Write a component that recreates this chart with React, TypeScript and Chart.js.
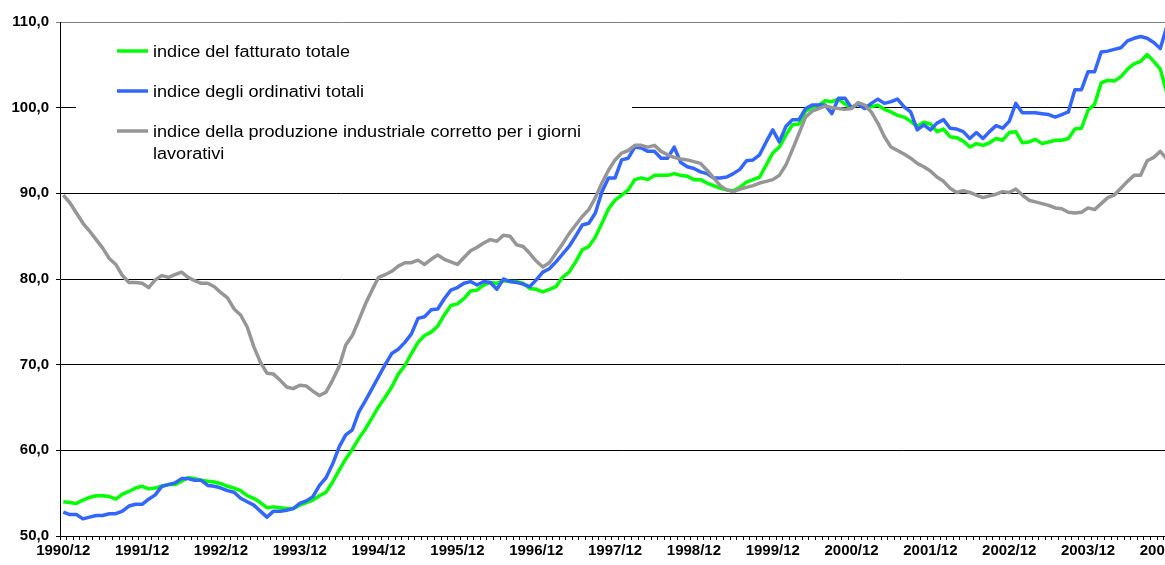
import React, { useEffect, useRef } from 'react';
import { Chart, registerables } from 'chart.js';

Chart.register(...registerables);

// ---- categories: months from 1990/12 (the original axis runs past the visible edge) ----
const categories: string[] = [];
for (let i = 0; i < 171; i++) {
  const m = ((11 + i) % 12) + 1;
  const y = 1990 + Math.floor((11 + i) / 12);
  categories.push(`${y}/${String(m).padStart(2, '0')}`);
}

const yTicks = [50, 60, 70, 80, 90, 100, 110];

const fatturato = [
  54.0, 53.9, 53.8, 54.2, 54.5, 54.7, 54.7, 54.6, 54.3, 54.9,
  55.2, 55.6, 55.8, 55.5, 55.6, 55.8, 56.0, 56.0, 56.4, 56.8,
  56.7, 56.5, 56.4, 56.3, 56.1, 55.8, 55.6, 55.3, 54.7, 54.4,
  53.9, 53.3, 53.4, 53.3, 53.2, 53.2, 53.6, 53.9, 54.2, 54.7,
  55.1, 56.3, 57.7, 59.0, 60.1, 61.4, 62.5, 63.8, 65.1, 66.2,
  67.4, 68.9, 69.9, 71.3, 72.6, 73.4, 73.8, 74.5, 75.8, 76.9,
  77.1, 77.7, 78.6, 78.7, 79.3, 79.6, 79.5, 79.8, 79.7, 79.7,
  79.5, 78.9, 78.8, 78.5, 78.8, 79.1, 80.2, 80.8, 82.0, 83.4,
  83.8, 84.9, 86.5, 88.2, 89.2, 89.8, 90.4, 91.6, 91.8, 91.6,
  92.1, 92.1, 92.1, 92.3, 92.1, 92.0, 91.6, 91.6, 91.2, 90.9,
  90.6, 90.4, 90.3, 90.7, 91.3, 91.6, 91.9, 93.3, 94.7, 95.4,
  96.8, 98.0, 98.1, 99.6, 100.0, 100.3, 100.8, 100.7, 101.0, 100.4,
  100.0, 100.5, 100.2, 100.1, 100.3, 99.8, 99.5, 99.1, 98.9, 98.4,
  97.8, 98.3, 98.1, 97.2, 97.5, 96.6, 96.5, 96.1, 95.4, 95.8,
  95.6, 95.9, 96.4, 96.2, 97.1, 97.2, 95.9, 96.0, 96.3, 95.8,
  96.0, 96.2, 96.2, 96.4, 97.5, 97.6, 99.7, 100.4, 102.9, 103.2,
  103.1, 103.6, 104.5, 105.1, 105.4, 106.2, 105.4, 104.5, 101.7,
];

const ordinativi = [
  52.8, 52.5, 52.5, 52.0, 52.2, 52.4, 52.4, 52.6, 52.6, 52.9,
  53.5, 53.7, 53.7, 54.3, 54.8, 55.8, 56.0, 56.2, 56.7, 56.7,
  56.5, 56.5, 55.9, 55.8, 55.6, 55.3, 55.1, 54.4, 54.0, 53.6,
  52.9, 52.2, 52.9, 52.9, 53.0, 53.2, 53.8, 54.1, 54.6, 55.9,
  56.8, 58.4, 60.4, 61.8, 62.4, 64.5, 65.8, 67.2, 68.6, 70.0,
  71.3, 71.8, 72.6, 73.6, 75.4, 75.6, 76.4, 76.5, 77.7, 78.7,
  79.0, 79.5, 79.7, 79.3, 79.7, 79.6, 78.8, 80.0, 79.7, 79.6,
  79.4, 79.1, 79.9, 80.8, 81.2, 82.0, 82.9, 83.8, 85.0, 86.3,
  86.5, 87.7, 90.2, 91.8, 91.8, 93.9, 94.1, 95.4, 95.3, 94.9,
  94.9, 94.1, 94.1, 95.4, 93.6, 93.1, 92.9, 92.5, 92.3, 91.8,
  91.8, 91.9, 92.3, 92.8, 93.8, 93.9, 94.5, 96.0, 97.4, 96.0,
  97.8, 98.6, 98.6, 99.9, 100.3, 100.3, 100.3, 99.3, 101.1, 101.1,
  100.0, 100.4, 99.9, 100.5, 101.0, 100.5, 100.7, 101.0, 100.1, 99.5,
  97.4, 98.0, 97.4, 98.2, 98.6, 97.6, 97.5, 97.2, 96.4, 97.1,
  96.4, 97.2, 97.9, 97.6, 98.4, 100.5, 99.4, 99.4, 99.4, 99.3,
  99.2, 98.9, 99.2, 99.5, 102.1, 102.1, 104.2, 104.2, 106.5, 106.6,
  106.8, 107.0, 107.8, 108.1, 108.3, 108.1, 107.6, 106.9, 109.5,
];

const produzione = [
  89.8, 88.9, 87.7, 86.5, 85.6, 84.6, 83.6, 82.4, 81.7, 80.4,
  79.6, 79.6, 79.5, 79.0, 79.9, 80.4, 80.2, 80.5, 80.8, 80.2,
  79.8, 79.5, 79.5, 79.1, 78.4, 77.8, 76.5, 75.8, 74.4, 72.1,
  70.3, 69.0, 68.9, 68.2, 67.4, 67.2, 67.6, 67.5, 66.9, 66.4,
  66.8, 68.2, 69.8, 72.3, 73.4, 75.2, 77.1, 78.7, 80.2, 80.5,
  80.9, 81.5, 81.9, 81.9, 82.2, 81.7, 82.3, 82.8, 82.3, 82.0,
  81.7, 82.5, 83.3, 83.7, 84.2, 84.6, 84.4, 85.1, 85.0, 84.0,
  83.8, 83.0, 82.1, 81.4, 81.9, 83.0, 84.1, 85.3, 86.3, 87.3,
  88.1, 89.5, 91.2, 92.7, 93.9, 94.7, 95.0, 95.6, 95.6, 95.4,
  95.6, 94.9, 94.5, 94.2, 94.0, 93.9, 93.7, 93.5, 92.7, 91.8,
  90.9, 90.4, 90.2, 90.5, 90.7, 90.9, 91.2, 91.4, 91.6, 92.1,
  93.3, 95.1, 97.0, 98.9, 99.6, 99.9, 100.2, 100.0, 99.9, 99.8,
  99.9, 100.6, 100.3, 99.5, 98.2, 96.6, 95.4, 95.0, 94.6, 94.1,
  93.5, 93.1, 92.6, 91.9, 91.4, 90.6, 90.1, 90.3, 90.1, 89.8,
  89.5, 89.7, 89.9, 90.2, 90.1, 90.5, 89.8, 89.2, 89.0, 88.8,
  88.6, 88.3, 88.2, 87.8, 87.7, 87.8, 88.3, 88.1, 88.8, 89.5,
  89.8, 90.6, 91.4, 92.1, 92.1, 93.8, 94.2, 94.9, 94.0,
];

const seriesLabels = [
  'indice del fatturato totale',
  'indice degli ordinativi totali',
  'indice della produzione industriale corretto per i giorni lavorativi',
];
const seriesColors = ['#00FF00', '#3366FF', '#969696'];

// ---- layout constants ----
const CANVAS_W = 1190;
const CANVAS_H = 565;
const LEGEND = {
  box: { x: 76, y: 30, w: 556, h: 142 },
  lineX0: 117,
  lineX1: 148,
  textX: 153,
  rowY: [51, 91, 131],
  lineHeight: 21.3,
  fontSize: 16,
  stretch: 1.13,
  maxTextWidth: 470,
};

const insideLegend = {
  id: 'insideLegend',
  beforeDatasetsDraw(chart: any) {
    const ctx: CanvasRenderingContext2D = chart.ctx;
    ctx.save();
    ctx.fillStyle = '#ffffff';
    ctx.fillRect(LEGEND.box.x, LEGEND.box.y, LEGEND.box.w, LEGEND.box.h);
    ctx.font = `${LEGEND.fontSize}px "Liberation Sans", Arial, sans-serif`;
    ctx.textBaseline = 'alphabetic';
    ctx.textAlign = 'left';
    chart.data.datasets.forEach((ds: any, i: number) => {
      const y = LEGEND.rowY[i];
      ctx.strokeStyle = ds.borderColor;
      ctx.lineWidth = 3.5;
      ctx.lineCap = 'butt';
      ctx.beginPath();
      ctx.moveTo(LEGEND.lineX0, y);
      ctx.lineTo(LEGEND.lineX1, y);
      ctx.stroke();
      // simple word wrap
      const words = String(ds.label).split(' ');
      const lines: string[] = [];
      let cur = '';
      for (const w of words) {
        const test = cur ? cur + ' ' + w : w;
        if (ctx.measureText(test).width * LEGEND.stretch > LEGEND.maxTextWidth && cur) {
          lines.push(cur);
          cur = w;
        } else {
          cur = test;
        }
      }
      if (cur) lines.push(cur);
      ctx.fillStyle = '#000000';
      lines.forEach((line, k) => {
        ctx.save();
        ctx.translate(LEGEND.textX, y + 6.4 + k * LEGEND.lineHeight);
        ctx.scale(LEGEND.stretch, 1);
        ctx.fillText(line, 0, 0);
        ctx.restore();
      });
    });
    ctx.restore();
  },
};

export default function App() {
  const ref = useRef<HTMLCanvasElement>(null);

  useEffect(() => {
    if (!ref.current) return;
    const tickFont = { family: '"Liberation Sans", Arial, sans-serif', size: 15, weight: 'bold' as const };
    const chart = new Chart(ref.current, {
      type: 'line',
      data: {
        labels: categories,
        datasets: [
          { label: seriesLabels[0], data: fatturato, borderColor: seriesColors[0], order: 2 },
          { label: seriesLabels[1], data: ordinativi, borderColor: seriesColors[1], order: 1 },
          { label: seriesLabels[2], data: produzione, borderColor: seriesColors[2], order: 0 },
        ].map((d) => ({
          ...d,
          backgroundColor: d.borderColor,
          borderWidth: 3.5,
          pointRadius: 0,
          pointHoverRadius: 0,
          tension: 0,
          fill: false,
          borderJoinStyle: 'round' as const,
          borderCapStyle: 'butt' as const,
        })),
      },
      options: {
        animation: false,
        responsive: false,
        devicePixelRatio: 1,
        layout: { padding: { top: 22, right: CANVAS_W - 60 - 171 * 6.569, bottom: 0, left: 0 } },
        plugins: {
          legend: { display: false },
          tooltip: { enabled: false },
          title: { display: false },
        },
        scales: {
          x: {
            type: 'category',
            offset: true,
            grid: {
              display: true,
              offset: true,
              drawOnChartArea: false,
              drawTicks: true,
              tickLength: 4,
              color: '#000000',
              lineWidth: 1,
            },
            border: { display: true, color: '#000000', width: 1 },
            ticks: {
              autoSkip: false,
              maxRotation: 0,
              minRotation: 0,
              padding: 2,
              color: '#000000',
              font: tickFont,
              callback: (_v: any, index: number) => (index % 12 === 0 ? categories[index] : ''),
            },
            afterFit: (scale: any) => {
              scale.height = 29;
            },
          },
          y: {
            type: 'linear',
            min: yTicks[0],
            max: yTicks[yTicks.length - 1],
            afterBuildTicks: (scale: any) => {
              scale.ticks = yTicks.map((v) => ({ value: v }));
            },
            grid: {
              display: true,
              drawTicks: true,
              tickLength: 4,
              lineWidth: 1,
              color: (c: any) => (c.tick && c.tick.value === 110 ? '#808080' : '#000000'),
            },
            border: { display: true, color: '#000000', width: 1 },
            ticks: {
              padding: 7,
              color: '#000000',
              font: tickFont,
              callback: (v: any) => Number(v).toFixed(1).replace('.', ','),
            },
            afterFit: (scale: any) => {
              scale.width = 60;
            },
          },
        },
      },
      plugins: [insideLegend],
    });
    return () => chart.destroy();
  }, []);

  return (
    <div
      style={{
        position: 'absolute',
        left: 0,
        top: 0,
        width: 1165,
        height: 565,
        overflow: 'hidden',
        background: '#ffffff',
      }}
    >
      <canvas ref={ref} width={CANVAS_W} height={CANVAS_H} style={{ display: 'block', width: CANVAS_W, height: CANVAS_H }} />
    </div>
  );
}
